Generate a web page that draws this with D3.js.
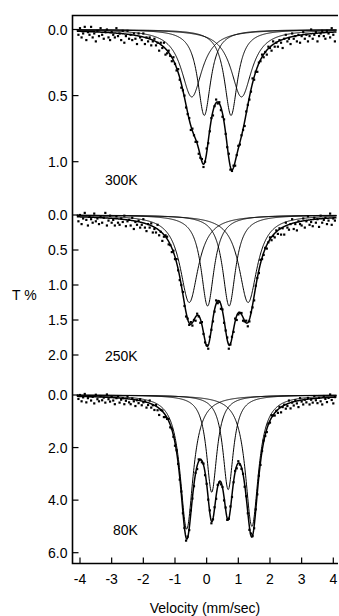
<!DOCTYPE html>
<html>
<head>
<meta charset="utf-8">
<script src="https://cdn.jsdelivr.net/npm/d3@7"></script>
<style>
body { margin: 0; background: #fff; }
text { font-family: Arial, "Liberation Sans", sans-serif; fill: #000; }
</style>
</head>
<body>
<svg id="chart"></svg>
<script>
// x axis
var velTicks = [-4, -3, -2, -1, 0, 1, 2, 3, 4];

// panel labels and y tick values
var tempLabels = ["300K", "250K", "80K"];
var yTicks300 = [0, 0.5, 1.0];
var yTicks250 = [0, 0.5, 1.0, 1.5, 2.0];
var yTicks80 = [0, 2, 4, 6];

// spectrometer channels: first velocity and step (mm/s)
var velStart = -4.05;
var velStep = 0.05;

// measured absorption, one value per channel, in hundredths of T%
var counts300 = [4,-1,6,3,-2,8,2,4,-2,6,
    3,9,1,5,-1,4,7,2,0,6,
    8,2,4,6,-1,5,3,8,1,10,
    5,1,7,4,8,3,7,11,3,6,
    8,3,11,6,9,6,12,9,7,12,
    10,16,10,14,10,19,18,16,20,24,
    21,26,31,30,38,44,46,50,59,64,
    67,76,75,80,85,85,94,97,98,104,
    100,90,86,77,67,65,58,53,56,55,
    61,66,68,79,89,94,106,107,103,103,
    95,88,87,80,76,73,62,57,53,47,
    37,38,32,32,25,24,19,21,17,19,
    13,14,16,9,13,10,13,8,10,14,
    7,4,9,7,11,3,7,5,9,4,
    10,5,2,7,4,9,5,0,7,4,
    2,9,5,3,1,5,7,1,3,6,
    -1,4,9];
var counts250 = [9,0,13,5,-3,7,15,2,6,11,
    -2,9,5,13,2,11,4,-3,15,8,
    1,11,7,15,2,11,14,5,10,1,
    16,9,7,15,4,20,10,14,8,18,
    14,6,18,23,13,18,12,25,20,25,
    14,29,24,37,31,29,31,42,43,53,
    51,63,63,79,93,100,110,130,145,148,
    157,153,158,150,151,141,145,154,153,170,
    182,186,191,174,164,152,138,122,126,124,
    134,135,154,165,175,191,185,174,167,148,
    150,142,140,140,151,152,151,159,152,139,
    132,122,101,90,83,64,63,57,47,48,
    39,32,36,30,32,22,27,19,28,19,
    28,11,18,21,13,6,20,13,22,9,
    13,15,5,18,9,2,14,10,16,4,
    11,6,17,1,11,7,4,13,8,-2,
    14,5,8];
var counts80 = [15,0,24,9,-4,28,12,4,21,7,
    32,-1,16,24,4,20,10,29,-2,16,
    25,7,21,35,12,5,29,18,12,35,
    22,6,28,35,13,24,42,20,31,16,
    39,28,24,48,38,21,48,39,57,38,
    58,76,57,59,84,84,91,91,123,128,
    159,193,210,262,322,367,450,506,554,539,
    514,439,394,347,296,282,245,246,256,261,
    305,338,398,439,488,473,427,395,342,333,
    340,350,401,428,475,471,424,388,332,289,
    279,252,265,281,300,349,385,450,513,527,
    537,507,435,378,307,266,213,173,156,141,
    109,105,77,78,78,60,68,45,66,46,
    37,52,42,21,51,29,40,20,32,46,
    12,25,36,18,28,11,36,18,29,4,
    20,31,11,24,36,4,15,27,11,-2,
    19,32,8];

// fitted subspectra: [centre (mm/s), depth (T%), width (mm/s)]
var sites300 = [[-0.47, 0.51, 0.80], [-0.075, 0.65, 0.50], [0.77, 0.65, 0.50], [1.10, 0.51, 0.80]];
var sites250 = [[-0.55, 1.25, 0.70], [0.03, 1.30, 0.50], [0.71, 1.30, 0.50], [1.31, 1.25, 0.70]];
var sites80 = [[-0.63, 5.1, 0.50], [0.16, 3.7, 0.40], [0.68, 3.6, 0.40], [1.43, 5.0, 0.50]];

var screen = {width: 339, height: 616};
var svg = d3.select("#chart")
    .attr("width", screen.width)
    .attr("height", screen.height);

var frame = {left: 72.5, right: 338, top: 15.5, bottom: 563.5};

var xScale = d3.scaleLinear()
    .domain([-4, 4])
    .range([80, 333.3]);

var panels = [
    {label: tempLabels[0], ticks: yTicks300, counts: counts300, sites: sites300, y: d3.scaleLinear().domain([0, 1]).range([29.5, 161.7]), lx: 105, ly: 185},
    {label: tempLabels[1], ticks: yTicks250, counts: counts250, sites: sites250, y: d3.scaleLinear().domain([0, 2]).range([215, 355]), lx: 105, ly: 361},
    {label: tempLabels[2], ticks: yTicks80, counts: counts80, sites: sites80, y: d3.scaleLinear().domain([0, 6]).range([395, 552.7]), lx: 113, ly: 535}
];

var lorentz = function(site, v) {
    var h = site[2] / 2;
    var d = v - site[0];
    return site[1] / (1 + (d * d) / (h * h));
}

var grid = d3.range(-4.1, 4.101, 0.01);

panels.forEach(function(p) {
    var g = svg.append("g");
    // y ticks
    g.selectAll("line.tick")
        .data(p.ticks)
        .enter()
        .append("line")
        .attr("x1", frame.left)
        .attr("x2", frame.left + 6)
        .attr("y1", function(t) { return p.y(t); })
        .attr("y2", function(t) { return p.y(t); })
        .attr("stroke", "#000")
        .attr("stroke-width", 1.2);
    g.selectAll("text.tick")
        .data(p.ticks)
        .enter()
        .append("text")
        .attr("x", frame.left - 5)
        .attr("y", function(t) { return p.y(t); })
        .attr("dy", "0.36em")
        .attr("text-anchor", "end")
        .attr("font-size", 14)
        .text(function(t) { return d3.format(".1f")(t); });

    g.append("text")
        .attr("x", p.lx)
        .attr("y", p.ly)
        .attr("font-size", 14)
        .text(p.label);

    var line = d3.line()
        .x(function(d) { return xScale(d[0]); })
        .y(function(d) { return p.y(d[1]); });

    // subspectra
    p.sites.forEach(function(s) {
        g.append("path")
            .datum(grid.map(function(v) { return [v, lorentz(s, v)]; }))
            .attr("d", line)
            .attr("fill", "none")
            .attr("stroke", "#000")
            .attr("stroke-width", 1);
    });
    // total fit
    g.append("path")
        .datum(grid.map(function(v) {
            return [v, d3.sum(p.sites, function(s) { return lorentz(s, v); })];
        }))
        .attr("d", line)
        .attr("fill", "none")
        .attr("stroke", "#000")
        .attr("stroke-width", 1.5);

    // measured points
    g.selectAll("rect.pt")
        .data(p.counts)
        .enter()
        .append("rect")
        .attr("x", function(c, i) { return xScale(velStart + i * velStep) - 1.1; })
        .attr("y", function(c) { return p.y(c / 100) - 1.1; })
        .attr("width", 2.2)
        .attr("height", 2.2)
        .attr("fill", "#000");
});

// frame
svg.append("path")
    .attr("d", "M" + frame.right + "," + frame.top + "H" + frame.left + "V" + frame.bottom + "H" + frame.right)
    .attr("fill", "none")
    .attr("stroke", "#000")
    .attr("stroke-width", 1.6);

svg.selectAll("line.xtick")
    .data(velTicks)
    .enter()
    .append("line")
    .attr("x1", function(t) { return xScale(t); })
    .attr("x2", function(t) { return xScale(t); })
    .attr("y1", frame.bottom)
    .attr("y2", frame.bottom - 6)
    .attr("stroke", "#000")
    .attr("stroke-width", 1.2);

svg.selectAll("text.xtick")
    .data(velTicks)
    .enter()
    .append("text")
    .attr("x", function(t) { return xScale(t); })
    .attr("y", 584)
    .attr("text-anchor", "middle")
    .attr("font-size", 14)
    .text(function(t) { return t; });

svg.append("text")
    .attr("x", 205)
    .attr("y", 613)
    .attr("text-anchor", "middle")
    .attr("font-size", 14)
    .text("Velocity (mm/sec)");

svg.append("text")
    .attr("x", 12)
    .attr("y", 300)
    .attr("font-size", 14)
    .text("T %");
</script>
</body>
</html>
